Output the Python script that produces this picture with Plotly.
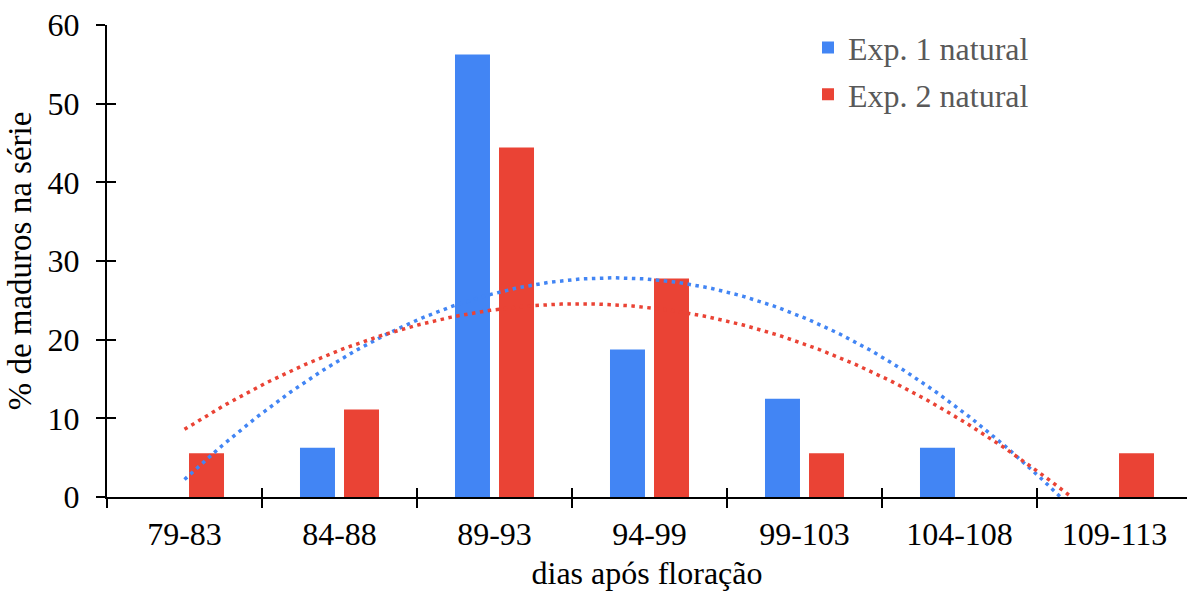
import numpy as np
import plotly.graph_objects as go

categories = ["79-83", "84-88", "89-93", "94-99", "99-103", "104-108", "109-113"]
exp1 = [0, 6.25, 56.25, 18.75, 12.5, 6.25, 0]
exp2 = [5.56, 11.11, 44.44, 27.78, 5.56, 0, 5.56]
series_names = ["Exp. 1 natural", "Exp. 2 natural"]
yticks = [0, 10, 20, 30, 40, 50, 60]

BLUE = "#4285F4"
RED = "#EA4335"
FONT = "Liberation Serif"

xpos = np.arange(1, len(categories) + 1)
bounds = list(np.arange(0.5, len(categories) + 1, 1.0))


def trend(vals):
    c = np.polyfit(xpos, vals, 2)
    roots = np.roots(c)
    rr = [r.real for r in roots if abs(r.imag) < 1e-9 and r.real > 1]
    xe = min(rr) if rr else xpos[-1]
    xs = np.linspace(1, xe, 300)
    return xs, np.polyval(c, xs)


fig = go.Figure()
for vals, col, name in [(exp1, BLUE, series_names[0]), (exp2, RED, series_names[1])]:
    fig.add_trace(go.Bar(x=xpos, y=vals, marker=dict(color=col, line=dict(color=col, width=0)),
                         name=name, showlegend=False))
for vals, col in [(exp1, BLUE), (exp2, RED)]:
    xs, ys = trend(vals)
    fig.add_trace(go.Scatter(x=xs, y=ys, mode="lines",
                             line=dict(color=col, width=3.5, dash="3.5px,4.5px"),
                             showlegend=False, hoverinfo="skip"))
for col, name, grp in [(BLUE, series_names[0], "a"), (RED, series_names[1], "b")]:
    fig.add_trace(go.Scatter(x=[None], y=[None], mode="markers", name=name, legendgroup=grp,
                             marker=dict(symbol="square", size=16, color=col)))
# dummy trace on overlay axes (for inside tick marks)
fig.add_trace(go.Scatter(x=[None], y=[None], xaxis="x2", yaxis="y2", showlegend=False))

xr = [0.5, 0.5 + 1080 / 155]
tf = dict(family=FONT, size=32, color="black")
fig.update_layout(
    width=1187, height=591,
    margin=dict(l=107, r=0, t=25, b=94),
    plot_bgcolor="white", paper_bgcolor="white",
    barmode="group", bargap=0.432, bargroupgap=0.205,
    font=dict(family=FONT, size=32, color="black"),
    showlegend=True,
    legend=dict(x=(808 - 107) / 1080, y=1.01, xanchor="left", yanchor="top",
                font=dict(family=FONT, size=32, color="#595959"),
                bgcolor="rgba(0,0,0,0)", tracegroupgap=2, itemsizing="constant"),
    xaxis=dict(range=xr, tickmode="array", tickvals=list(xpos), ticktext=categories,
               ticks="", showline=True, linecolor="black", linewidth=2, showgrid=False,
               zeroline=False, tickfont=tf, ticklabelstandoff=8,
               minor=dict(tickmode="array", tickvals=bounds, ticks="outside", ticklen=9,
                          tickwidth=2, tickcolor="black", showgrid=False),
               title=dict(text="dias após floração", font=dict(family=FONT, size=32, color="black"), standoff=14)),
    xaxis2=dict(range=xr, overlaying="x", anchor="y", side="bottom", tickmode="array",
                tickvals=bounds, ticks="inside", ticklen=9, tickwidth=2, tickcolor="black",
                showticklabels=False, showline=False, showgrid=False, zeroline=False),
    yaxis=dict(range=[0, 60], tickmode="array", tickvals=yticks, ticks="outside", ticklen=9,
               tickwidth=2, tickcolor="black", showline=True, linecolor="black", linewidth=2,
               showgrid=False, zeroline=False, tickfont=tf, ticklabelstandoff=10,
               title=dict(text="% de maduros na série", font=dict(family=FONT, size=33, color="black"), standoff=6)),
    yaxis2=dict(range=[0, 60], overlaying="y", anchor="x", side="left", tickmode="array",
                tickvals=yticks, ticks="inside", ticklen=9, tickwidth=2, tickcolor="black",
                showticklabels=False, showline=False, showgrid=False, zeroline=False),
)

fig.write_html("out.html")
